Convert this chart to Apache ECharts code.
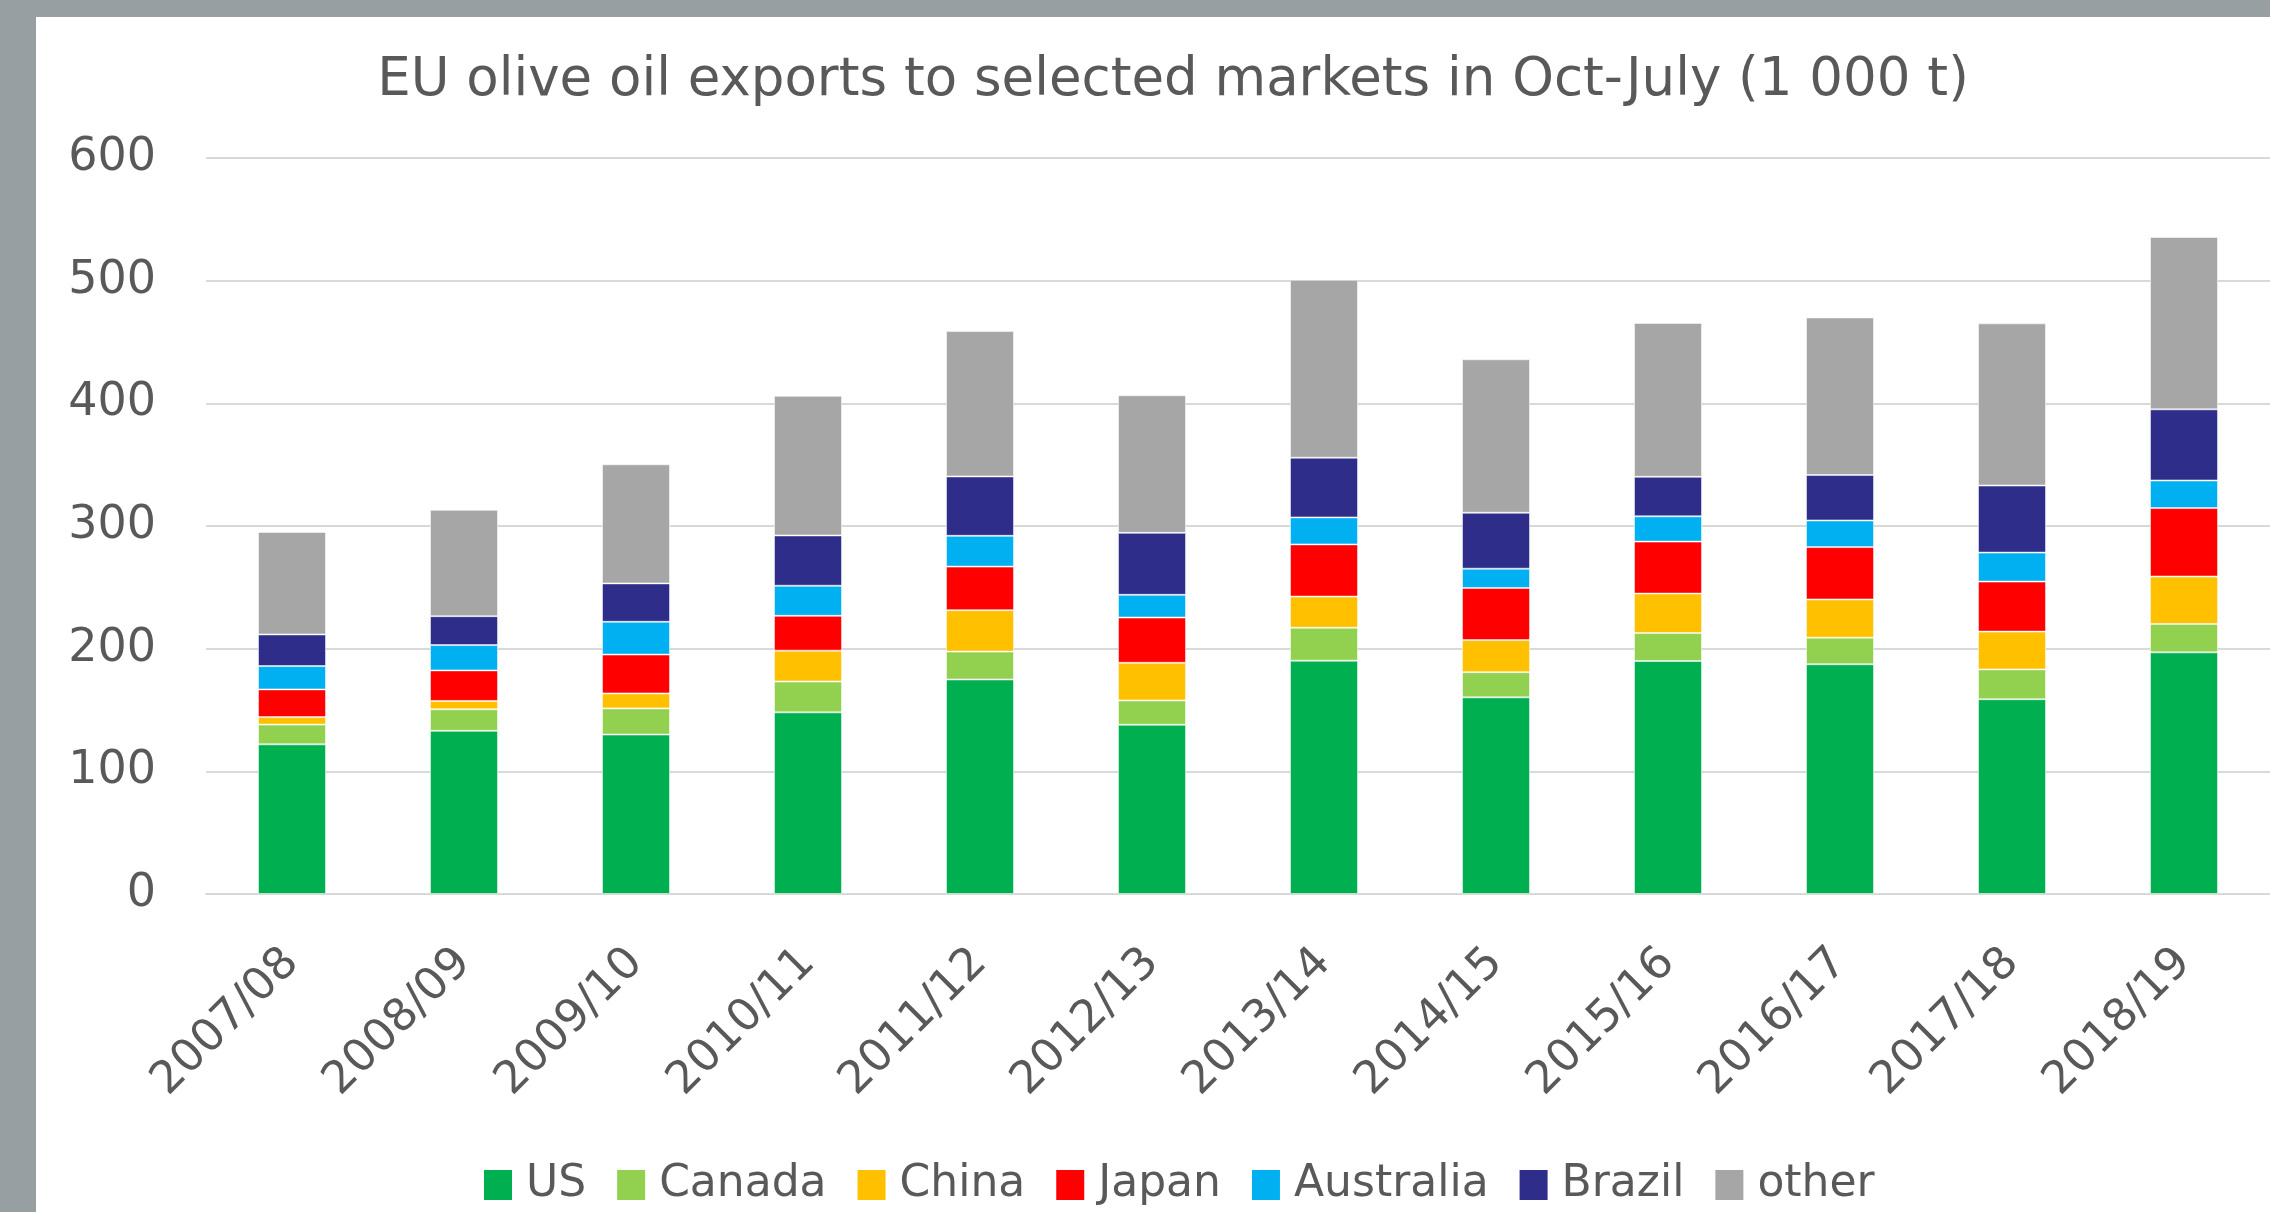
<!DOCTYPE html>
<html>
<head>
<meta charset="utf-8">
<script src="https://cdn.jsdelivr.net/npm/echarts@6/dist/echarts.min.js"></script>
<style>
  html, body { margin: 0; padding: 0; background: #ffffff; }
  #chart { width: 2270px; height: 1212px; }
</style>
</head>
<body>
<div id="chart"></div>
<script>
// Marketing years (October–July)
const seasons = ['2007/08', '2008/09', '2009/10', '2010/11', '2011/12', '2012/13',
                 '2013/14', '2014/15', '2015/16', '2016/17', '2017/18', '2018/19'];

// EU olive oil exports by destination, 1 000 t
const us        = [122.0, 133.0, 130.0, 148.1, 174.9, 138.0, 190.2, 160.3, 189.9, 187.3, 158.8, 197.0];
const canada    = [ 16.1,  17.6,  21.3,  25.1,  22.7,  19.8,  26.9,  20.5,  22.8,  21.7,  24.3,  23.2];
const china     = [  6.1,   6.8,  12.2,  25.2,  33.8,  30.7,  25.4,  26.2,  32.2,  31.1,  30.8,  38.6];
const japan     = [ 22.6,  24.9,  31.7,  28.4,  35.5,  36.9,  42.5,  42.5,  42.4,  42.7,  40.8,  55.8];
const australia = [ 19.0,  20.6,  26.7,  24.5,  25.1,  18.5,  22.0,  15.7,  20.6,  21.7,  23.6,  22.5];
const brazil    = [ 25.8,  23.6,  31.3,  41.0,  48.4,  50.5,  48.7,  45.6,  32.2,  37.1,  54.7,  58.0];
const other     = [ 83.6,  86.7,  97.1, 113.8, 118.5, 112.2, 145.0, 125.1, 125.4, 128.4, 132.2, 140.5];

const yTicks = [0, 100, 200, 300, 400, 500, 600];

const seriesDefs = [
  { name: 'US',        data: us,        color: '#00b050' },
  { name: 'Canada',    data: canada,    color: '#92d050' },
  { name: 'China',     data: china,     color: '#ffc000' },
  { name: 'Japan',     data: japan,     color: '#ff0000' },
  { name: 'Australia', data: australia, color: '#00b0f0' },
  { name: 'Brazil',    data: brazil,    color: '#2e2d8a' },
  { name: 'other',     data: other,     color: '#a6a6a6' }
];

const FONT = '"DejaVu Sans", sans-serif';
const TEXT = '#595959';
const FRAME = '#979fa3';

const chart = echarts.init(document.getElementById('chart'), null, { renderer: 'canvas' });

chart.setOption({
  backgroundColor: '#ffffff',
  animation: false,
  textStyle: { fontFamily: FONT },
  title: {
    text: 'EU olive oil exports to selected markets in Oct-July (1 000 t)',
    left: 1168,
    top: 50,
    textAlign: 'center',
    textStyle: { fontFamily: FONT, fontSize: 53, fontWeight: 'normal', color: TEXT }
  },
  legend: {
    data: seriesDefs.map(s => s.name),
    left: 479,
    top: 1158,
    itemWidth: 28,
    itemHeight: 30,
    itemGap: 31,
    icon: 'rect',
    itemStyle: { borderWidth: 0 },
    textStyle: { fontFamily: FONT, fontSize: 44, color: TEXT, padding: [0, 0, 0, 9] }
  },
  // plot area runs slightly past the right edge of the canvas
  grid: { left: 206, width: 2072, top: 158, height: 736, containLabel: false },
  xAxis: {
    type: 'category',
    data: seasons,
    axisLine: { show: true, lineStyle: { color: '#d9d9d9', width: 2 } },
    axisTick: { show: false },
    axisLabel: {
      rotate: 45,
      margin: 62,
      fontFamily: FONT,
      fontSize: 45,
      color: TEXT,
      interval: 0
    }
  },
  yAxis: {
    type: 'value',
    min: yTicks[0],
    max: yTicks[yTicks.length - 1],
    interval: 100,
    axisLine: { show: false },
    axisTick: { show: false },
    splitLine: { lineStyle: { color: '#d9d9d9', width: 2 } },
    axisLabel: { margin: 50, fontFamily: FONT, fontSize: 46, color: TEXT }
  },
  graphic: [
    { type: 'rect', left: 0, top: 0, shape: { width: 2270, height: 17 }, style: { fill: FRAME }, z: 100 },
    { type: 'rect', left: 0, top: 0, shape: { width: 36, height: 1212 }, style: { fill: FRAME }, z: 100 }
  ],
  series: seriesDefs.map(s => ({
    name: s.name,
    type: 'bar',
    stack: 'total',
    data: s.data,
    barWidth: 68,
    itemStyle: { color: s.color, borderColor: 'rgba(255,255,255,0.5)', borderWidth: 1 },
    emphasis: { disabled: true }
  }))
});
</script>
</body>
</html>
